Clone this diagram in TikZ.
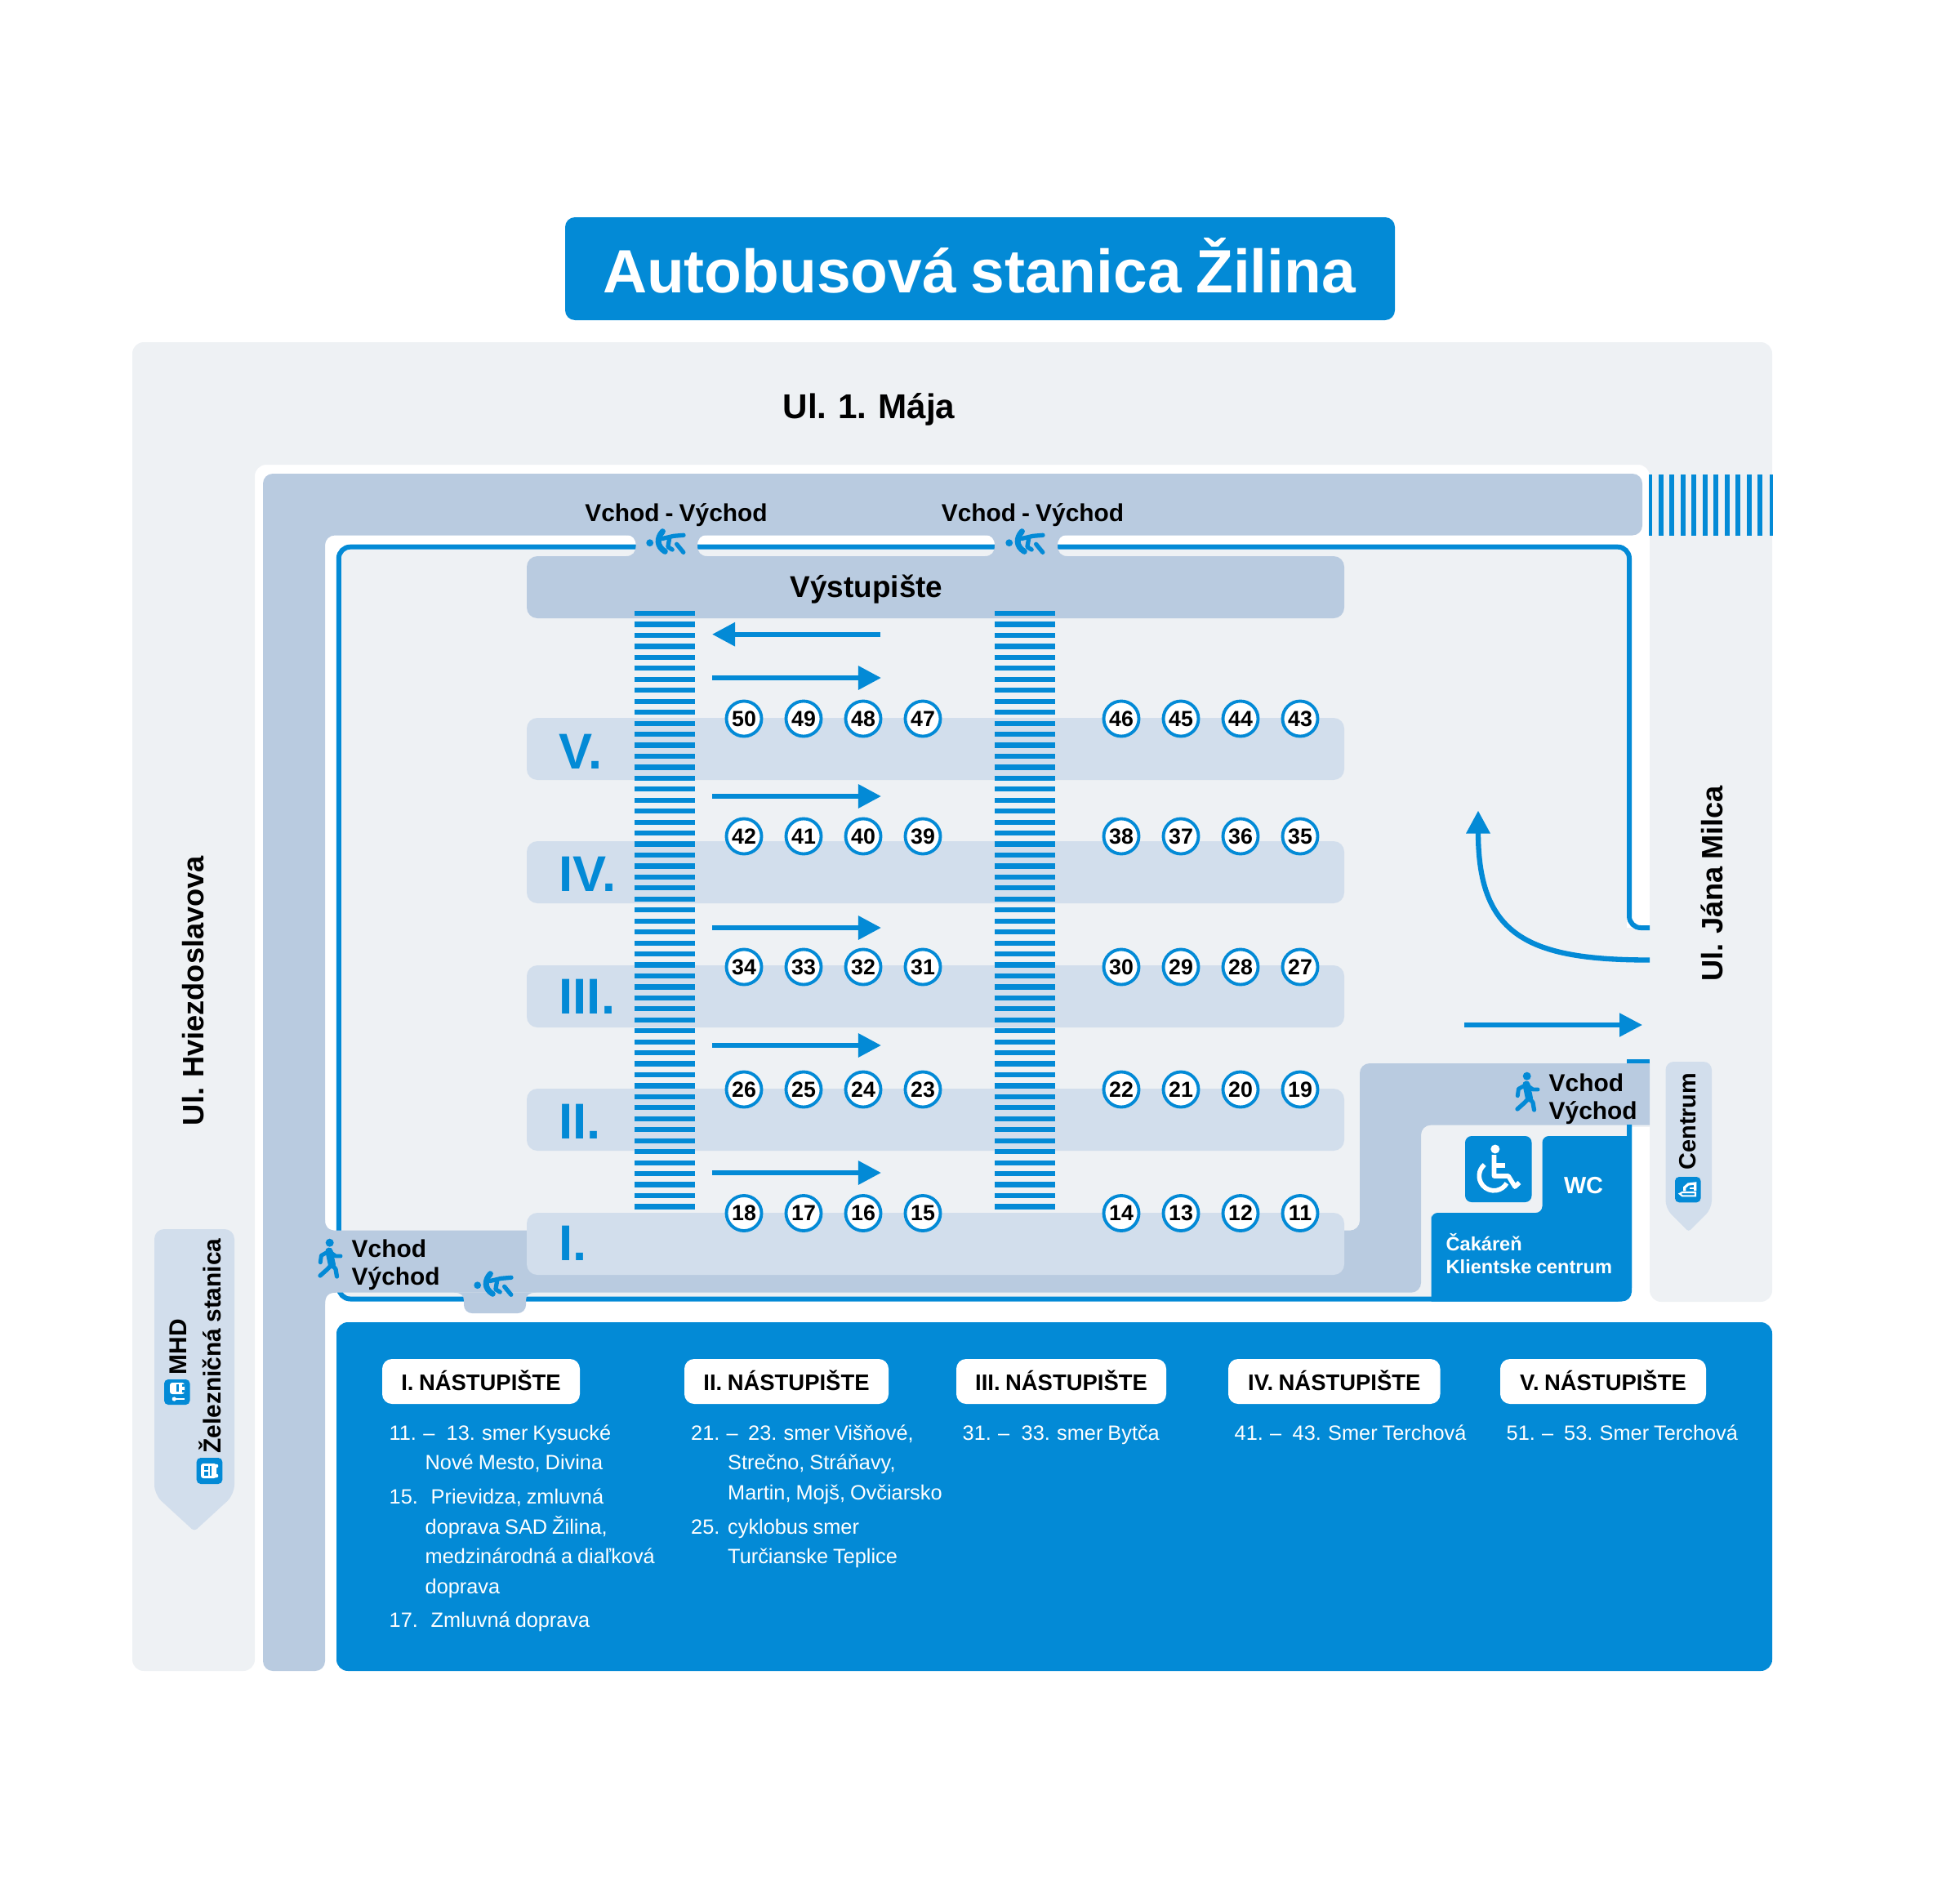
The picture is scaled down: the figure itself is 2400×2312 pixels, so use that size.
\documentclass[tikz,border=0pt]{standalone}
\usepackage{fontspec}
\setmainfont{Liberation Sans}[WordSpace=0.85]
\usetikzlibrary{arrows.meta}
\definecolor{busblue}{HTML}{038AD6}
\definecolor{roadgray}{HTML}{B9CBE0}
\definecolor{barblue}{HTML}{D2DEEC}
\definecolor{ground}{HTML}{EEF1F4}
\tikzset{
  lbl/.style={inner sep=0pt,font=\bfseries\fontsize{8.5}{10}\selectfont},
  body/.style={inner sep=0pt,anchor=base west,text=white,yshift=-0.01cm,font=\fontsize{7.2}{9}\selectfont},
  hdr/.style={inner sep=0pt,font=\bfseries\fontsize{7.8}{10}\selectfont},
  stand/.style={circle,draw=busblue,fill=white,line width=1.1pt,inner sep=0pt,minimum size=0.43cm,font=\bfseries\fontsize{7.6}{9}\selectfont},
  walker/.pic={
    \fill[busblue] (0.7,-19.3) circle (5);
    \draw[busblue,line cap=round,line join=round,line width=1.4pt] (0,-9) -- (-9.6,-3.7) -- (-10.7,4.7);
    \draw[busblue,line cap=round,line join=round,line width=1.4pt] (2.5,-7) -- (8,-3) -- (14,-3);
    \draw[busblue,line cap=round,line join=round,line width=2.6pt] (0,-9) -- (3.5,8);
    \draw[busblue,line cap=round,line join=round,line width=1.5pt] (2.5,8) -- (-2,13) -- (-11,21);
    \draw[busblue,line cap=round,line join=round,line width=1.5pt] (3.5,7) -- (8,13) -- (9.5,22);
  },
  faller/.pic={
    \fill[busblue] (-19.3,1.7) circle (4.4);
    \draw[busblue,line cap=round,line join=round,line width=2pt] (-3.6,-12.3) .. controls (-11,-4) and (-11,6) .. (-0.7,12.3);
    \draw[busblue,line cap=round,line join=round,line width=1.5pt] (-4,-3.5) -- (10,-6.7) -- (22,-7.7);
    \draw[busblue,line cap=round,line join=round,line width=1.5pt] (4.6,-3.3) -- (2.9,6.7) -- (8.2,10);
    \draw[busblue,line cap=round,line join=round,line width=1.5pt] (13.6,3.3) -- (21.8,13.3);
  },
}
\begin{document}
\begin{tikzpicture}[x=0.01cm,y=-0.01cm,>={Stealth[inset=0pt,length=0.28cm,width=0.28cm]}]
\useasboundingbox (0,0) rectangle (2400,2312);
% title
\fill[busblue,rounded corners=0.12cm] (692,266) rectangle (1708,392);
\node[inner sep=0pt,text=white,font=\bfseries\fontsize{21.3}{26}\selectfont] (title) at (1199,325) {Autobusová stanica Žilina};
% streets
\fill[ground,rounded corners=0.14cm] (162,419) -- (2170,419) -- (2170,1594) -- (2020,1594) -- (2020,569) -- (312,569) -- (312,2046) -- (162,2046) -- cycle;
\fill[roadgray,rounded corners=0.12cm] (322,580) -- (2011,580) -- (2011,655.5) -- (398,655.5) -- (398,2046) -- (322,2046) -- cycle;
% crossing on the right
\fill[busblue] (2019,581) rectangle (2023,655.5);
\foreach \i in {1,...,10}{
  \fill[busblue] (2017+13.5*\i,581) rectangle (2023+13.5*\i,655.5);
}
\fill[busblue] (2166.5,581) rectangle (2170.5,655.5);
% station yard
\fill[ground] (418,672) rectangle (1992,1588);
\fill[ground] (1990,1136) rectangle (2022,1380);
\draw[busblue,line width=1.7pt,rounded corners=0.14cm] (414.8,1510) -- (414.8,669.7) -- (1995,669.7) -- (1995,1136) -- (2020,1136);
\draw[busblue,line width=1.7pt,rounded corners=0.14cm] (414.8,1575) -- (414.8,1590.5) -- (1995,1590.5) -- (1995,1370);
\fill[busblue] (1992,1297) rectangle (2020,1302);
% entrance tabs
\foreach \ta/\tb in {778.6/854,1218/1295}{
  \fill[roadgray] (\ta-12,655) .. controls (\ta-4,655) and (\ta,660) .. (\ta,668) .. controls (\ta,676) and (\ta-4,681) .. (\ta-12,681) -- (\tb+12,681) .. controls (\tb+4,681) and (\tb,676) .. (\tb,668) .. controls (\tb,660) and (\tb+4,655) .. (\tb+12,655) -- cycle;
}
% walkway
\fill[roadgray] (398,1494) .. controls (398,1502) and (402,1506.7) .. (412,1506.7) [rounded corners=0.12cm] -- (1665,1506.7) -- (1665,1302) [sharp corners] -- (2020,1302) -- (2020,1377.6) [rounded corners=0.12cm] -- (1740,1377.6) -- (1740,1582.7) [sharp corners] -- (412,1582.7) .. controls (402,1582.7) and (398,1587) .. (398,1597) -- cycle;
\fill[roadgray] (556,1582.7) .. controls (564,1582.7) and (568,1586) .. (568,1592) [rounded corners=0.1cm] -- (568,1608) -- (644,1608) [sharp corners] -- (644,1592) .. controls (644,1586) and (648,1582.7) .. (656,1582.7) -- cycle;
% exit platform
\fill[roadgray,rounded corners=0.13cm] (645,681) rectangle (1646,757);
\node[inner sep=0pt,anchor=base,font=\bfseries\fontsize{10.5}{12}\selectfont] (exit) at (1061,731) {Výstupište};
% platforms
\foreach \by/\lab/\ly in {879/V./920,1030/IV./1070,1182/III./1220,1333/II./1373,1485/I./1522}{
  \fill[barblue,rounded corners=0.13cm] (645,\by) rectangle (1646,\by+76);
  \node[inner sep=0pt,anchor=west,text=busblue,font=\bfseries\fontsize{17.5}{20}\selectfont] at (684,\ly) {\lab};
}
% zebra crossings
\foreach \sx in {777,1218}{
  \foreach \i in {0,...,54}{
    \fill[busblue] (\sx,748+13.45*\i) rectangle (\sx+74,754.2+13.45*\i);
  }
}
% driving direction
\draw[->,busblue,line width=1.7pt] (1078,776.7) -- (872,776.7);
\foreach \ay in {830,975,1136,1280,1436}{
  \draw[->,busblue,line width=1.7pt] (872,\ay) -- (1079,\ay);
}
\draw[->,busblue,line width=1.8pt] (2020,1175.5) .. controls (1870,1175.5) and (1810,1145) .. (1810,992.5);
\draw[->,busblue,line width=1.5pt] (1793,1255) -- (2011,1255);
% stands
\foreach \ry/\first in {880/50,1024/42,1184/34,1334/26,1485.5/18}{
  \foreach \i in {0,1,2,3}{
    \pgfmathtruncatemacro{\na}{\first-\i}
    \pgfmathtruncatemacro{\nb}{\first-4-\i}
    \node[stand] (s\na) at (911+73*\i,\ry) {\na};
    \node[stand] (s\nb) at (1373+73*\i,\ry) {\nb};
  }
}
% rooms
\fill[busblue,rounded corners=0.08cm] (1794,1391) rectangle (1875.5,1472);
\fill[busblue] (1752.5,1593.5) -- (1752.5,1488) [rounded corners=0.08cm] -- (1752.5,1485) -- (1888.5,1485) -- (1888.5,1391) [sharp corners] -- (1992,1391) -- (1992,1377) -- (1998,1377) [rounded corners=0.12cm] -- (1998,1593.5) [sharp corners] -- cycle;
\node[inner sep=0pt,text=white,font=\bfseries\fontsize{8.2}{10}\selectfont] (wc) at (1939,1452) {WC};
\node[inner sep=0pt,anchor=base west,text=white,font=\bfseries\fontsize{6.7}{9}\selectfont] (wait) at (1770,1531) {Čakáreň};
\node[inner sep=0pt,anchor=base west,text=white,font=\bfseries\fontsize{6.7}{9}\selectfont] (kc) at (1770,1559) {Klientske centrum};
% wheelchair
\fill[white] (1830.8,1407) circle (5.5);
\draw[white,line width=1.6pt,line join=round] (1829.5,1414) -- (1829.5,1440) -- (1847,1440) -- (1855,1453) -- (1860.5,1448);
\draw[white,line width=1.6pt] (1829.5,1427) -- (1843,1427);
\draw[white,line width=1.6pt] (1817.7,1426) arc[start angle=130,end angle=330,radius=0.18cm];
% entrances
\pic at (403,1541) {walker};
\pic at (1869,1337) {walker};
\pic at (815,663) {faller};
\pic at (1255,663) {faller};
\pic at (604,1572) {faller};
\node[lbl,anchor=base] (in1) at (828,638) {Vchod - Východ};
\node[lbl,anchor=base] (in2) at (1264.5,638) {Vchod - Východ};
\node[lbl,anchor=base west] (in3) at (430,1539) {Vchod};
\node[lbl,anchor=base west] (out3) at (430,1573) {Východ};
\node[lbl,anchor=base west] (in4) at (1896,1336) {Vchod};
\node[lbl,anchor=base west] (out4) at (1896,1370) {Východ};
% street names
\node[inner sep=0pt,font=\bfseries\fontsize{12}{14}\selectfont] (may) at (1064,501) {Ul. 1. Mája};
\node[inner sep=0pt,rotate=90,font=\bfseries\fontsize{10.3}{12}\selectfont] (hviezd) at (237,1213) {Ul. Hviezdoslavova};
\node[inner sep=0pt,rotate=90,font=\bfseries\fontsize{10.3}{12}\selectfont] (milca) at (2096,1082) {Ul. Jána Milca};
% signposts
\fill[barblue,rounded corners=0.12cm] (189,1505) -- (287,1505) -- (287,1830) [rounded corners=0.04cm] -- (238,1875) [rounded corners=0.12cm] -- (189,1830) -- cycle;
\node[lbl,rotate=90] (rail) at (257,1648) {Železničná stanica};
\node[lbl,rotate=90] (mhd) at (218,1649) {MHD};
\fill[busblue,rounded corners=0.05cm] (201,1689) rectangle (232.5,1720);
\fill[white,rounded corners=0.03cm] (208,1693) rectangle (226,1707);
\fill[busblue] (216,1695) rectangle (218.5,1704);
\fill[busblue] (222.5,1695) rectangle (226,1698);
\fill[busblue] (222.5,1702) rectangle (226,1705);
\fill[white] (213.3,1713) circle (2.6);
\draw[white,line width=0.6pt] (213.3,1713) -- (226,1713);
\fill[busblue,rounded corners=0.05cm] (240.7,1785) rectangle (272.3,1817);
\fill[white,rounded corners=0.03cm] (246,1792) rectangle (265,1810);
\fill[white] (265,1795) circle (2.3);
\fill[white] (265,1807) circle (2.3);
\fill[busblue] (250,1795) rectangle (254.5,1800);
\fill[busblue] (250,1802) rectangle (254.5,1807);
\fill[busblue] (257,1795) rectangle (259,1807);
\fill[barblue,rounded corners=0.1cm] (2039.5,1300) -- (2096,1300) -- (2096,1480) [rounded corners=0.03cm] -- (2067.7,1508) [rounded corners=0.1cm] -- (2039.5,1480) -- cycle;
\node[inner sep=0pt,rotate=90,font=\bfseries\fontsize{8.2}{10}\selectfont] (centre) at (2067,1373) {Centrum};
\fill[busblue,rounded corners=0.05cm] (2051,1441) rectangle (2082.5,1472.3);
\draw[white,line width=0.6pt] (2056.7,1461.7) -- (2060,1460) -- (2076,1460) -- (2076,1464.3) -- (2060,1464.3) -- cycle;
\draw[white,line width=0.9pt] (2062.7,1458.3) -- (2062.7,1454) -- (2067.3,1450) -- (2075.7,1449) -- (2075.7,1458);
\draw[white,line width=0.7pt] (2069.3,1455) -- (2075.7,1455);
% timetable
\fill[busblue,rounded corners=0.14cm] (412,1619) rectangle (2170,2046);
\foreach \bxa/\bxb/\lab in {468/710/I.,838/1088/II.,1171/1428/III.,1504/1763.5/IV.,1837/2089/V.}{
  \fill[white,rounded corners=0.12cm] (\bxa,1664) rectangle (\bxb,1719);
  \node[hdr,anchor=base] at ({(\bxa+\bxb)/2},1702) {\lab\ NÁSTUPIŠTE};
}
\node[body] at (476,1762) {11. –};
\node[body] at (546,1762) {13. smer Kysucké};
\node[body] at (520,1798) {Nové Mesto, Divina};
\node[body] at (476,1840) {15.};
\node[body] at (527,1840) {Prievidza, zmluvná};
\node[body] at (520,1877) {doprava SAD Žilina,};
\node[body] at (520,1913) {medzinárodná a diaľková};
\node[body] at (520,1950) {doprava};
\node[body] at (476,1991) {17.};
\node[body] at (527,1991) {Zmluvná doprava};
\node[body] at (845.5,1762) {21. –};
\node[body] at (915.5,1762) {23. smer Višňové,};
\node[body] at (890.5,1798) {Strečno, Stráňavy,};
\node[body] at (890.5,1835) {Martin, Mojš, Ovčiarsko};
\node[body] at (845.5,1877) {25.};
\node[body] at (890.5,1877) {cyklobus smer};
\node[body] at (890.5,1913) {Turčianske Teplice};
\node[body] at (1178,1762) {31. –};
\node[body] at (1250,1762) {33. smer Bytča};
\node[body] at (1511,1762) {41. –};
\node[body] at (1582,1762) {43. Smer Terchová};
\node[body] at (1844,1762) {51. –};
\node[body] at (1914.5,1762) {53. Smer Terchová};
\end{tikzpicture}
\end{document}
